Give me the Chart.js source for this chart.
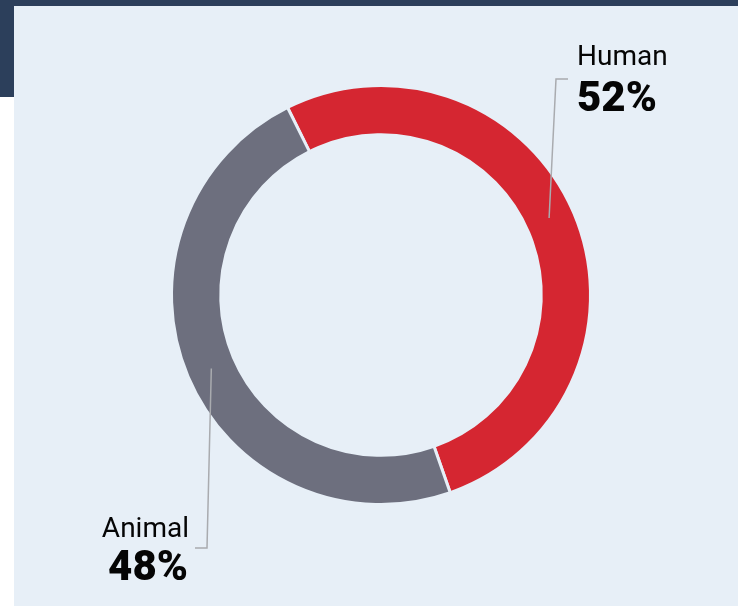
<!DOCTYPE html>
<html>
<head>
<meta charset="utf-8">
<script src="https://cdn.jsdelivr.net/npm/chart.js@4/dist/chart.umd.min.js"></script>
<style>
  html, body { margin: 0; padding: 0; background: #ffffff; }
  #wrap { position: relative; width: 738px; height: 606px; overflow: hidden; }
  #navy { position: absolute; left: 0; top: 0; width: 738px; height: 97px; background: #2c3f5b; }
  #panel { position: absolute; left: 14px; top: 6px; width: 724px; height: 600px; background: #e7eff7; }
  #mycanvas { position: absolute; left: 0; top: 0; }
</style>
</head>
<body>
<div id="wrap">
  <div id="navy"></div>
  <div id="panel"></div>
  <canvas id="mycanvas" width="738" height="606"></canvas>
</div>
<script>
var labels = ['Human', 'Animal'];
var values = [52, 48];
var colors = ['#d52631', '#6d6f7e'];

// callout placement: angle of anchor on ring (deg, canvas), elbow offset from centre
var calloutAngle = [-24.6, 156.6];
var calloutElbow = [[175, -216], [-174, 253]];

var calloutPlugin = {
  id: 'callouts',
  afterDraw: function(chart) {
    var ctx = chart.ctx;
    var meta = chart.getDatasetMeta(0);
    for (var i = 0; i < meta.data.length; i++) {
      var arc = meta.data[i];
      var cx = arc.x, cy = arc.y;
      var r = (arc.innerRadius + arc.outerRadius) / 2;
      var a = calloutAngle[i] * Math.PI / 180;
      var ax = cx + r * Math.cos(a), ay = cy + r * Math.sin(a);
      var ex = cx + calloutElbow[i][0], ey = cy + calloutElbow[i][1];
      var right = calloutElbow[i][0] > 0;
      var hx = right ? ex + 12 : ex - 12;
      ctx.save();
      ctx.strokeStyle = '#a9abaf';
      ctx.lineWidth = 1.5;
      ctx.beginPath();
      ctx.moveTo(ax, ay);
      ctx.lineTo(ex, ey);
      ctx.lineTo(hx, ey);
      ctx.stroke();
      ctx.fillStyle = '#050505';
      ctx.textBaseline = 'alphabetic';
      if (right) {
        ctx.textAlign = 'left';
        ctx.font = '28px Roboto';
        ctx.fillText(labels[i], hx + 9, ey - 14);
        ctx.font = '900 42px Roboto';
        ctx.fillText(values[i] + '%', hx + 9, ey + 32);
      } else {
        ctx.textAlign = 'right';
        ctx.font = '28px Roboto';
        ctx.fillText(labels[i], hx - 6, ey - 11);
        ctx.font = '900 42px Roboto';
        ctx.fillText(values[i] + '%', hx - 7, ey + 32);
      }
      ctx.restore();
    }
  }
};

var ctx = document.getElementById('mycanvas');
var donut = new Chart(ctx, {
  type: 'doughnut',
  data: {
    labels: labels,
    datasets: [{
      data: values,
      backgroundColor: colors,
      borderColor: '#e7eff7',
      borderWidth: 3,
      hoverOffset: 0
    }]
  },
  options: {
    responsive: false,
    animation: false,
    cutout: '76.5%',
    rotation: -26.5,
    layout: { padding: { left: 170, right: 146, top: 84, bottom: 100 } },
    plugins: {
      legend: { display: false },
      tooltip: { enabled: false }
    }
  },
  plugins: [calloutPlugin]
});
</script>
</body>
</html>
